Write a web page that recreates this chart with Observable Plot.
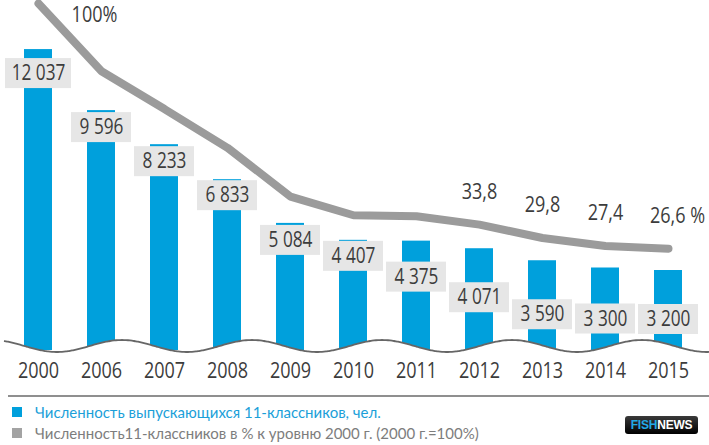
<!DOCTYPE html>
<html>
<head>
<meta charset="utf-8">
<script src="https://cdn.jsdelivr.net/npm/d3@7"></script>
<script src="https://cdn.jsdelivr.net/npm/@observablehq/plot@0.6"></script>
<style>
  html, body { margin: 0; padding: 0; background: #fff; }
  #wrap { position: relative; width: 709px; height: 445px; overflow: hidden; }
  #chart svg { display: block; }
  #rule { position: absolute; left: 8px; right: 0; top: 395px; border-top: 2px solid #8f8f8f; }
  .leg { position: absolute; left: 12px; font-family: Lato, "Noto Sans", sans-serif; font-size: 15px; white-space: nowrap; }
  .leg .sw { position: absolute; left: 0; width: 10px; height: 10px; }
  .leg span.t { position: absolute; left: 23px; top: -9px; }
  #logo { position: absolute; left: 625px; top: 416px; width: 73px; height: 18px; border-radius: 3px;
          background: linear-gradient(#3a3a3a, #000); font-family: "Liberation Sans", Arial, sans-serif;
          font-weight: bold; font-size: 12px; line-height: 18px; text-align: center; letter-spacing: -0.2px; }
</style>
</head>
<body>
<div id="wrap">
  <div id="chart"></div>
  <div id="rule"></div>
  <div class="leg" style="top:412px;color:#1b9fd9"><div class="sw" style="top:-5px;background:#00a0dc"></div><span class="t">Численность выпускающихся 11-классников, чел.</span></div>
  <div class="leg" style="top:433px;color:#7d7d7d"><div class="sw" style="top:-5px;background:#a3a3a3"></div><span class="t">Численность11-классников в % к уровню 2000 г. (2000 г.=100%)</span></div>
  <div id="logo"><span style="color:#22a9e6">FISH</span><span style="color:#fff">NEWS</span></div>
</div>
<script>
const years = ["2000","2006","2007","2008","2009","2010","2011","2012","2013","2014","2015"];
const graduates = [12037, 9596, 8233, 6833, 5084, 4407, 4375, 4071, 3590, 3300, 3200];
const graduateLabels = ["12 037","9 596","8 233","6 833","5 084","4 407","4 375","4 071","3 590","3 300","3 200"];
const sharePct = [100, 79.7, 68.4, 56.8, 42.2, 36.6, 36.3, 33.8, 29.8, 27.4, 26.6];
const shareLabels = ["100%","","","","","","","33,8","29,8","27,4","26,6 %"];

// layout (pixels)
const W = 709, H = 395, zeroPx = 350;
const yMax = 14000;
const u = yMax / zeroPx;               // data units per pixel
const labelDrop = [24, 17, 17, 16, 17, 16, 36, 49, 54, 51, 49]; // box centre below bar top, px
// secondary (percent) axis mapped onto the bar scale: 0% at 337px, 100% at 3px
const pctY = p => (zeroPx - (337 - p * 3.34)) * u;

const data = years.map((year, i) => ({
  year, value: graduates[i], label: graduateLabels[i], pct: sharePct[i], pctLabel: shareLabels[i], drop: labelDrop[i]
}));
const lblY = d => d.value - d.drop * u;
const txt = "#3c3c3c";

const plot = Plot.plot({
  width: W, height: H,
  marginLeft: 5, marginRight: 8, marginTop: 0, marginBottom: H - zeroPx,
  style: { fontFamily: '"Open Sans", "Noto Sans", sans-serif', fontSize: "22px", color: txt, background: "#fff" },
  x: { domain: years, paddingInner: 35 / 63, paddingOuter: 0.3, label: null, tickSize: 0, tickPadding: 12 },
  y: { domain: [0, yMax], axis: null },
  marks: [
    Plot.barY(data, { x: "year", y: "value", fill: "#00a0dc" }),
    Plot.barY(data.filter(d => d.label.length > 5), { x: "year", y1: d => lblY(d) - 15 * u, y2: d => lblY(d) + 15 * u, fill: "#e6e6e6", insetLeft: -19, insetRight: -19 }),
    Plot.barY(data.filter(d => d.label.length <= 5), { x: "year", y1: d => lblY(d) - 15 * u, y2: d => lblY(d) + 15 * u, fill: "#e6e6e6", insetLeft: -16, insetRight: -16 }),
    Plot.text(data, { x: "year", y: lblY, text: "label", fontSize: 21, fill: txt }),
    Plot.line(data, { x: "year", y: d => pctY(d.pct), stroke: "#9b9b9b", strokeWidth: 8, strokeLinejoin: "miter" }),
    Plot.text(data.slice(0, 1), { x: "year", y: d => pctY(d.pct), text: "pctLabel", dx: 56, dy: 11, fontSize: 22, fill: txt }),
    Plot.text(data.filter((d, i) => d.pctLabel && i > 0 && i < data.length - 1), { x: "year", y: d => pctY(d.pct), text: "pctLabel", dy: -33, fontSize: 22, fill: txt }),
    Plot.text(data.slice(-1), { x: "year", y: d => pctY(d.pct), text: "pctLabel", dx: 9, dy: -33, fontSize: 22, fill: txt })
  ]
});
document.getElementById("chart").appendChild(plot);

const svg = d3.select(plot);
// condensed look: squeeze every text horizontally about its anchor
svg.selectAll("text").each(function () {
  const t = d3.select(this);
  const x = +t.attr("x") || 0;
  const tr = t.attr("transform") || "";
  t.attr("transform", `${tr} translate(${x},0) scale(0.82,1) translate(${-x},0)`);
});

// decorative wavy "broken axis" at the bar bases, placed right above the bars
const y0 = plot.scale("y").apply(0);
const wave = d3.range(0, W + 2, 2).map(x => [x, y0 - 4 + 6 * Math.cos(2 * Math.PI * (x - 57) / 130)]);
const barsG = plot.querySelector('g[aria-label="bar"]');
const gNode = document.createElementNS("http://www.w3.org/2000/svg", "g");
plot.insertBefore(gNode, barsG ? barsG.nextSibling : null);
const g = d3.select(gNode);
g.append("path").attr("d", d3.line()(wave) + `L${W},${y0 + 10}L0,${y0 + 10}Z`).attr("fill", "#fff");
g.append("path").attr("d", d3.line().curve(d3.curveBasis)(wave.filter(p => p[0] >= 4))).attr("fill", "none").attr("stroke", "#666").attr("stroke-width", 1.8);
</script>
</body>
</html>
